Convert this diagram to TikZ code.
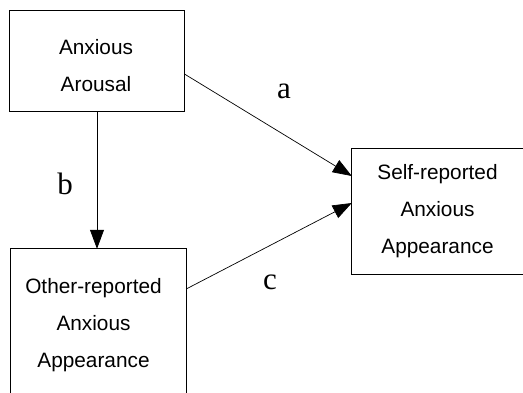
\documentclass[tikz,border=0pt]{standalone}
\usepackage{fontspec}
\setmainfont{Liberation Serif}
\newfontfamily\boxfont{Liberation Sans}
\usetikzlibrary{arrows.meta}
\begin{document}
\begin{tikzpicture}[x=1pt,y=-1pt,
  boxnode/.style={draw=black,line width=0.9pt,inner sep=0pt,rectangle},
  boxline/.style={draw=black,line width=0.9pt},
  boxtext/.style={font=\boxfont\fontsize{20.8}{24}\selectfont,anchor=base,inner sep=0pt},
  pathlabel/.style={font=\fontsize{31}{31}\selectfont,anchor=base,inner sep=0pt},
  arr/.style={line width=0.7pt,-{Triangle[length=19pt,width=14pt]}}]
\fill[white] (0,0) rectangle (523,392);
\useasboundingbox (0,0) rectangle (523,392);
% boxes
\node[boxnode,minimum width=175pt,minimum height=101pt] (A) at (96.5,60.5) {};
\node[inner sep=0pt,minimum width=200pt,minimum height=125pt] (S) at (452,211.5) {};
\draw[boxline] (S.north east) -- (S.north west) -- (S.south west) -- (S.south east);
\node[inner sep=0pt,minimum width=175pt,minimum height=170pt] (O) at (98.5,334) {};
\draw[boxline] (O.south west) -- (O.north west) -- (O.north east) -- (O.south east);
% texts
\node[boxtext] (A1) at (96,54) {Anxious};
\node[boxtext] (A2) at (96,91) {Arousal};
\node[boxtext] (S1) at (437.5,179) {Self-reported};
\node[boxtext] (S2) at (437.5,216) {Anxious};
\node[boxtext] (S3) at (437.5,253) {Appearance};
\node[boxtext] (O1) at (93.5,293) {Other-reported};
\node[boxtext] (O2) at (93.5,330) {Anxious};
\node[boxtext] (O3) at (93.5,367) {Appearance};
% connectors
\draw[arr] ([yshift=-13.5pt]A.east) -- ([yshift=35.5pt]S.west);
\draw[arr] ([yshift=45pt]O.east) -- ([yshift=8.5pt]S.west);
\draw[arr] ([xshift=0.5pt]A.south) -- ([xshift=-1.5pt]O.north);
% labels
\node[pathlabel] (la) at (284,98) {a};
\node[pathlabel] (lb) at (65,194) {b};
\node[pathlabel] (lc) at (270,289) {c};
\end{tikzpicture}
\end{document}
